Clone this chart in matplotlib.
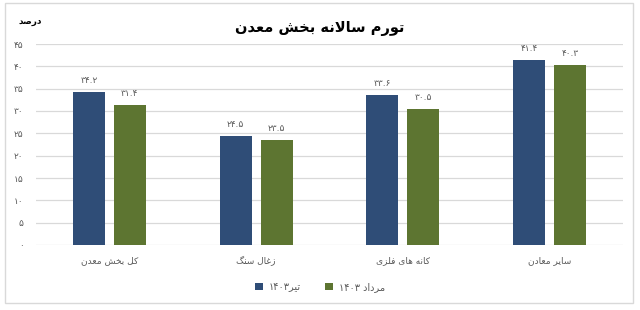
import matplotlib
matplotlib.use('Agg')
import matplotlib.pyplot as plt
from matplotlib.patches import Rectangle
import numpy as np

plt.rcParams['font.family'] = ['DejaVu Sans']

# data
categories = ['کل بخش معدن', 'زغال سنگ', 'کانه های فلزی', 'سایر معادن']
tir_1403 = [34.2, 24.5, 33.6, 41.4]
mordad_1403 = [31.4, 23.5, 30.5, 40.3]
series_names = ['تیر۱۴۰۳', 'مرداد ۱۴۰۳']
title = 'تورم سالانه بخش معدن'
unit = 'درصد'
yticks = [0, 5, 10, 15, 20, 25, 30, 35, 40, 45]

# presentation forms: isolated, final, initial, medial
FORMS = {
    'ا': ('\uFE8D', '\uFE8E'), 'آ': ('\uFE81', '\uFE82'),
    'د': ('\uFEA9', '\uFEAA'), 'ذ': ('\uFEAB', '\uFEAC'),
    'ر': ('\uFEAD', '\uFEAE'), 'ز': ('\uFEAF', '\uFEB0'),
    'ژ': ('\uFB8A', '\uFB8B'), 'و': ('\uFEED', '\uFEEE'),
    'ب': ('\uFE8F', '\uFE90', '\uFE91', '\uFE92'),
    'پ': ('\uFB56', '\uFB57', '\uFB58', '\uFB59'),
    'ت': ('\uFE95', '\uFE96', '\uFE97', '\uFE98'),
    'ث': ('\uFE99', '\uFE9A', '\uFE9B', '\uFE9C'),
    'ج': ('\uFE9D', '\uFE9E', '\uFE9F', '\uFEA0'),
    'چ': ('\uFB7A', '\uFB7B', '\uFB7C', '\uFB7D'),
    'ح': ('\uFEA1', '\uFEA2', '\uFEA3', '\uFEA4'),
    'خ': ('\uFEA5', '\uFEA6', '\uFEA7', '\uFEA8'),
    'س': ('\uFEB1', '\uFEB2', '\uFEB3', '\uFEB4'),
    'ش': ('\uFEB5', '\uFEB6', '\uFEB7', '\uFEB8'),
    'ص': ('\uFEB9', '\uFEBA', '\uFEBB', '\uFEBC'),
    'ض': ('\uFEBD', '\uFEBE', '\uFEBF', '\uFEC0'),
    'ط': ('\uFEC1', '\uFEC2', '\uFEC3', '\uFEC4'),
    'ظ': ('\uFEC5', '\uFEC6', '\uFEC7', '\uFEC8'),
    'ع': ('\uFEC9', '\uFECA', '\uFECB', '\uFECC'),
    'غ': ('\uFECD', '\uFECE', '\uFECF', '\uFED0'),
    'ف': ('\uFED1', '\uFED2', '\uFED3', '\uFED4'),
    'ق': ('\uFED5', '\uFED6', '\uFED7', '\uFED8'),
    'ک': ('\uFB8E', '\uFB8F', '\uFB90', '\uFB91'),
    'گ': ('\uFB92', '\uFB93', '\uFB94', '\uFB95'),
    'ل': ('\uFEDD', '\uFEDE', '\uFEDF', '\uFEE0'),
    'م': ('\uFEE1', '\uFEE2', '\uFEE3', '\uFEE4'),
    'ن': ('\uFEE5', '\uFEE6', '\uFEE7', '\uFEE8'),
    'ه': ('\uFEE9', '\uFEEA', '\uFEEB', '\uFEEC'),
    'ی': ('\uFBFC', '\uFBFD', '\uFBFE', '\uFBFF'),
}
DIGITS = str.maketrans('0123456789', '۰۱۲۳۴۵۶۷۸۹')


def shape(word):
    out = []
    i = 0
    n = len(word)
    while i < n:
        c = word[i]
        prev = word[i - 1] if i > 0 else ''
        joins_prev = prev in FORMS and len(FORMS[prev]) == 4
        if c == 'ل' and i + 1 < n and word[i + 1] == 'ا':
            out.append('\uFEFC' if joins_prev else '\uFEFB')
            i += 2
            continue
        if c not in FORMS:
            out.append(c)
            i += 1
            continue
        f = FORMS[c]
        nxt = word[i + 1] if i + 1 < n else ''
        joins_next = len(f) == 4 and nxt in FORMS
        if joins_prev and joins_next:
            out.append(f[3])
        elif joins_prev:
            out.append(f[1])
        elif joins_next:
            out.append(f[2])
        else:
            out.append(f[0])
        i += 1
    return ''.join(out)


def rtl(s):
    # simple bidi: digit runs stay left-to-right, the rest is reversed
    s = shape(s.translate(DIGITS))
    runs = []
    for ch in s:
        is_num = ch in '۰۱۲۳۴۵۶۷۸۹.'
        if runs and runs[-1][0] == is_num:
            runs[-1][1].append(ch)
        else:
            runs.append((is_num, [ch]))
    parts = [''.join(r) if num else ''.join(reversed(r)) for num, r in runs]
    return ''.join(reversed(parts))


blue = '#2f4d77'
green = '#5d7531'
gray = '#595959'

fig = plt.figure(figsize=(6.4, 3.1), dpi=100)
fig.patches.append(Rectangle((5 / 640, 7 / 310), 628 / 640, 300 / 310, transform=fig.transFigure,
                             fill=False, edgecolor='#d9d9d9', linewidth=1))
ax = fig.add_axes([36 / 640, 65 / 310, 587 / 640, 201 / 310])

x = np.arange(len(categories))
w = 0.218
off = 0.139
b1 = ax.bar(x - off, tir_1403, w, color=blue, label=rtl(series_names[0]), zorder=3)
b2 = ax.bar(x + off, mordad_1403, w, color=green, label=rtl(series_names[1]), zorder=3)

for bars, vals in [(b1, tir_1403), (b2, mordad_1403)]:
    for bar, v in zip(bars, vals):
        ax.annotate(rtl(f'{v:.1f}'), (bar.get_x() + bar.get_width() / 2, v),
                    xytext=(0, 5), textcoords='offset points', ha='center', va='bottom',
                    fontsize=6.5, color=gray)

ax.set_xlim(-0.5, 3.5)
ax.set_ylim(0, 45)
ax.set_yticks(yticks)
ax.set_yticklabels([rtl(str(t)) for t in yticks])
ax.set_xticks(x)
ax.set_xticklabels([rtl(c) for c in categories])
ax.tick_params(axis='both', length=0, labelsize=6.5, colors=gray)
ax.tick_params(axis='x', pad=8)
ax.tick_params(axis='y', pad=9)
ax.grid(axis='y', color='#d9d9d9', linewidth=0.9, zorder=0)
for s in ax.spines.values():
    s.set_visible(False)

fig.text(320 / 640, 1 - 28 / 310, rtl(title), ha='center', va='center', fontsize=10.5, fontweight='bold')
fig.text(30 / 640, 1 - 22 / 310, rtl(unit), ha='center', va='center', fontsize=6.5, fontweight='bold')

fig.legend(loc='center', bbox_to_anchor=(320 / 640, 1 - 287 / 310), ncol=2, frameon=False,
           fontsize=7, handlelength=0.8, handleheight=0.8, columnspacing=2.5, handletextpad=0.6,
           labelcolor=gray)

fig.savefig('out.png', dpi=100)
